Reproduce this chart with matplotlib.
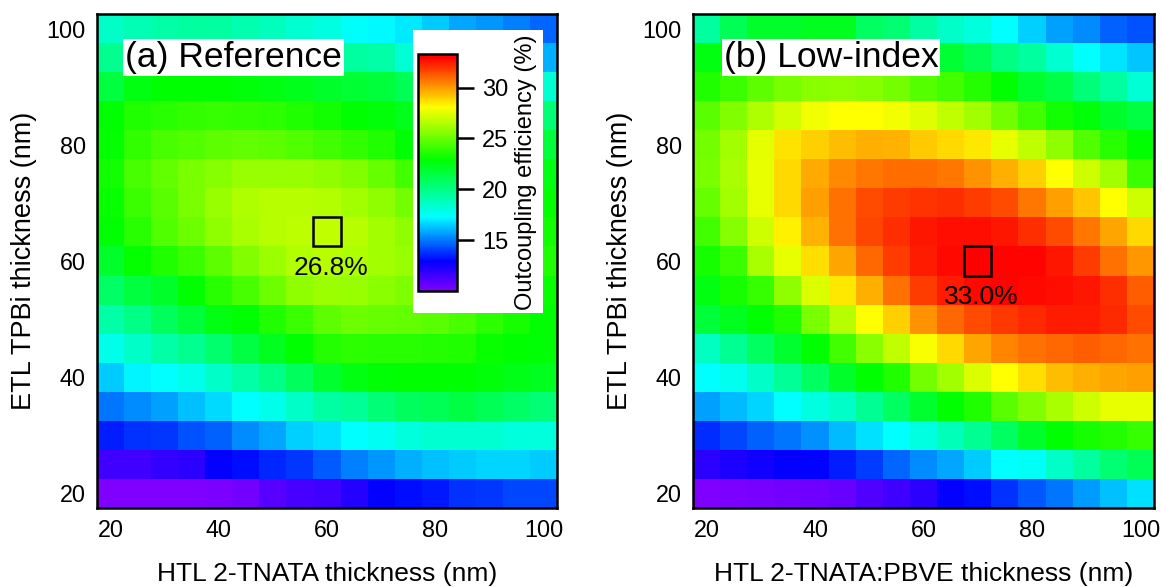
import numpy as np
import matplotlib
matplotlib.use("Agg")
import matplotlib.pyplot as plt
from matplotlib.colors import LinearSegmentedColormap, Normalize
from matplotlib.cm import ScalarMappable
from matplotlib.patches import Rectangle

plt.rcParams['font.family'] = ['Liberation Sans', 'DejaVu Sans']

# HTL thickness (x) and ETL thickness (y, rows listed from top = 100 nm down to 20 nm)
htl_nm = [20, 25, 30, 35, 40, 45, 50, 55, 60, 65, 70, 75, 80, 85, 90, 95, 100]
etl_nm = [100, 95, 90, 85, 80, 75, 70, 65, 60, 55, 50, 45, 40, 35, 30, 25, 20]

# outcoupling efficiency (%) - (a) reference device
eff_ref = [
    [18.5, 19.0, 19.2, 19.4, 19.4, 19.1, 18.8, 18.3, 18.0, 17.4, 17.2, 17.0, 16.4, 15.8, 15.5, 15.1, 14.7],
    [19.8, 20.8, 21.2, 21.3, 21.3, 21.2, 21.0, 20.6, 20.2, 19.4, 19.2, 18.2, 17.5, 17.0, 16.6, 16.2, 16.0],
    [21.5, 22.5, 22.9, 22.9, 22.9, 22.7, 22.5, 22.3, 22.0, 21.8, 21.6, 21.1, 20.6, 20.0, 19.4, 18.8, 18.3],
    [22.9, 23.5, 23.7, 23.9, 24.0, 23.9, 23.8, 23.5, 23.2, 22.9, 22.7, 22.3, 22.0, 21.6, 21.2, 20.8, 20.3],
    [23.0, 23.9, 24.3, 24.5, 24.8, 24.9, 24.8, 24.5, 24.2, 23.9, 23.5, 22.8, 22.4, 22.1, 21.9, 21.7, 21.6],
    [23.2, 24.3, 24.9, 25.3, 25.6, 26.0, 26.0, 26.0, 25.8, 25.5, 25.0, 24.2, 23.8, 23.4, 23.1, 22.9, 22.5],
    [23.1, 24.1, 24.7, 25.3, 26.0, 26.4, 26.6, 26.6, 26.5, 26.2, 25.8, 25.2, 24.6, 24.1, 23.7, 23.4, 23.0],
    [22.9, 23.7, 24.5, 25.1, 25.8, 26.3, 26.6, 26.7, 26.8, 26.6, 26.2, 25.8, 25.3, 24.7, 24.2, 23.7, 23.2],
    [22.0, 23.0, 23.5, 24.1, 24.8, 25.5, 26.1, 26.5, 26.6, 26.4, 26.2, 26.0, 25.6, 25.1, 24.6, 24.1, 23.5],
    [20.7, 21.5, 22.0, 22.9, 23.7, 24.3, 25.1, 25.8, 26.1, 26.0, 25.7, 25.4, 25.0, 24.6, 24.1, 23.6, 23.1],
    [19.2, 20.0, 20.9, 21.6, 22.5, 22.9, 23.5, 24.1, 24.8, 25.1, 25.0, 24.9, 24.7, 24.3, 23.8, 23.3, 22.9],
    [17.8, 18.5, 19.2, 19.8, 20.5, 21.4, 22.2, 22.9, 23.6, 23.8, 23.7, 23.7, 23.6, 23.5, 23.1, 22.9, 22.8],
    [16.4, 17.1, 17.3, 17.8, 18.5, 19.2, 20.0, 20.9, 21.9, 22.5, 22.8, 22.9, 22.9, 22.9, 22.7, 22.4, 22.2],
    [15.0, 15.3, 15.7, 16.2, 16.7, 17.3, 17.8, 18.5, 19.3, 19.6, 20.3, 20.9, 21.1, 21.4, 21.1, 20.7, 20.3],
    [13.4, 13.8, 13.9, 14.3, 14.6, 15.3, 15.8, 16.5, 16.8, 17.3, 17.6, 18.1, 18.3, 18.3, 18.3, 18.1, 18.1],
    [11.5, 11.5, 11.8, 12.0, 12.9, 13.1, 13.6, 13.9, 14.5, 15.1, 15.5, 16.0, 16.2, 16.4, 16.6, 16.6, 16.4],
    [10.0, 10.0, 10.0, 10.0, 10.1, 10.3, 11.0, 11.3, 11.5, 12.1, 12.9, 13.1, 13.3, 13.8, 13.9, 14.1, 14.1],
]

# outcoupling efficiency (%) - (b) low-index HTL
eff_low = [
    [19.4, 21.1, 22.0, 22.0, 22.2, 22.2, 20.8, 20.4, 19.3, 18.5, 18.1, 17.3, 16.5, 15.7, 15.3, 14.6, 14.3],
    [22.5, 22.8, 23.3, 23.6, 23.8, 23.8, 23.4, 23.0, 22.5, 21.8, 21.1, 20.1, 19.4, 18.3, 17.3, 16.9, 16.3],
    [23.5, 24.1, 24.8, 25.3, 25.7, 25.8, 25.6, 25.2, 24.6, 24.2, 23.6, 22.9, 21.9, 21.3, 20.2, 19.4, 18.2],
    [24.7, 25.5, 26.4, 27.2, 27.8, 28.1, 28.1, 27.8, 27.4, 26.8, 26.2, 25.2, 24.2, 23.2, 22.7, 22.0, 21.4],
    [25.2, 26.2, 27.5, 28.6, 29.0, 29.3, 29.6, 29.5, 29.1, 28.8, 28.5, 27.6, 26.8, 25.8, 24.5, 23.7, 22.9],
    [25.3, 26.3, 27.6, 28.8, 29.7, 30.3, 30.7, 30.9, 30.9, 30.7, 30.2, 29.6, 29.0, 28.1, 27.1, 26.2, 24.1],
    [25.0, 26.2, 27.6, 28.8, 29.9, 30.8, 31.5, 31.8, 32.0, 32.1, 31.8, 31.5, 30.7, 29.9, 29.2, 28.1, 27.1],
    [24.2, 25.6, 27.1, 28.3, 29.5, 30.8, 31.6, 32.1, 32.5, 32.7, 32.7, 32.5, 32.1, 31.5, 30.7, 29.8, 28.8],
    [23.3, 24.1, 26.3, 27.6, 28.7, 29.8, 31.0, 31.8, 32.4, 32.8, 33.0, 32.9, 32.9, 32.5, 31.8, 30.8, 30.1],
    [22.5, 23.3, 24.0, 25.8, 27.3, 28.5, 29.6, 30.8, 31.8, 32.4, 32.8, 32.9, 32.8, 32.7, 32.5, 32.1, 31.2],
    [21.6, 22.2, 22.9, 23.5, 25.3, 26.6, 28.1, 29.0, 30.2, 31.0, 31.5, 31.9, 32.2, 32.4, 32.4, 32.2, 31.5],
    [18.7, 19.7, 20.8, 21.9, 22.9, 24.2, 25.7, 26.8, 28.0, 28.8, 29.8, 30.4, 30.8, 31.0, 31.2, 31.0, 30.8],
    [17.3, 17.7, 18.5, 19.6, 20.8, 22.0, 22.9, 23.5, 25.2, 26.2, 27.3, 28.1, 28.7, 29.3, 29.6, 29.8, 29.9],
    [15.7, 16.1, 16.6, 17.3, 18.0, 18.5, 19.7, 20.8, 21.9, 22.9, 23.5, 24.7, 25.5, 26.3, 27.1, 27.6, 27.6],
    [13.7, 14.1, 14.6, 15.0, 15.4, 16.1, 16.8, 17.3, 18.0, 18.9, 19.7, 20.8, 22.0, 22.9, 23.3, 23.6, 24.0],
    [12.0, 12.3, 12.6, 12.9, 13.0, 13.4, 14.0, 14.7, 15.3, 15.8, 16.4, 17.3, 17.5, 18.5, 19.4, 20.4, 21.1],
    [10.0, 10.1, 10.2, 10.3, 10.4, 10.6, 11.1, 11.5, 12.0, 12.9, 13.1, 13.8, 14.4, 15.0, 15.6, 16.2, 16.8],
]

# optimum (htl, etl, efficiency)
best_ref = (60, 65, 26.8)
best_low = (70, 60, 33.0)

ticks = [20, 40, 60, 80, 100]
cbar_ticks = [15, 20, 25, 30]

# rainbow palette: violet -> blue -> cyan -> green -> yellow -> red
norm = Normalize(vmin=10.0, vmax=33.3)
cmap = LinearSegmentedColormap.from_list("oe_rainbow", [
    (0.0, (0.5, 0.0, 1.0)),
    (0.1245, (0.0, 0.0, 1.0)),
    (0.3133, (0.0, 1.0, 1.0)),
    (0.5536, (0.0, 1.0, 0.0)),
    (0.7768, (1.0, 1.0, 0.0)),
    (0.9871, (1.0, 0.0, 0.0)),
    (1.0, (1.0, 0.0, 0.0)),
])


def edges(centers):
    c = np.sort(np.array(centers, dtype=float))
    step = c[1] - c[0]
    return np.append(c - step / 2, c[-1] + step / 2)


def draw_panel(ax, data, best, label, label_x, xlabel):
    z = np.array(data)[::-1]  # rows bottom -> top
    xe = edges(htl_nm)
    ye = edges(etl_nm)
    ax.pcolormesh(xe, ye, z, cmap=cmap, norm=norm, shading='flat')
    ax.set_xlim(xe[0], xe[-1])
    ax.set_ylim(ye[0], ye[-1])
    ax.set_xticks(ticks)
    ax.set_yticks(ticks)
    ax.tick_params(length=0, pad=8, labelsize=16.8)
    for s in ax.spines.values():
        s.set_linewidth(1.8)
    ax.set_xlabel(xlabel, fontsize=19, labelpad=14)
    ax.set_ylabel("ETL TPBi thickness (nm)", fontsize=19.5, labelpad=7)

    bx, by, val = best
    ax.add_patch(Rectangle((bx - 2.5, by - 2.5), 5, 5, fill=False, ec='black', lw=1.8))
    ax.text(bx + 0.7, by - 6.2, f"{val:.1f}%", ha='center', va='center', fontsize=19)

    ax.text(label_x, 0.912, label, transform=ax.transAxes, fontsize=25.5,
            ha='left', va='center',
            bbox=dict(facecolor='white', edgecolor='none', pad=1.2))


fig = plt.figure(figsize=(11.62, 5.87), dpi=100)
W, H = 1162, 587

ax1 = fig.add_axes([97 / W, (H - 508) / H, 460 / W, 494 / H])
ax2 = fig.add_axes([693 / W, (H - 508) / H, 461 / W, 494 / H])

draw_panel(ax1, eff_ref, best_ref, "(a) Reference", 0.061, "HTL 2-TNATA thickness (nm)")
draw_panel(ax2, eff_low, best_low, "(b) Low-index", 0.067, "HTL 2-TNATA:PBVE thickness (nm)")

# white box behind the colorbar inside panel (a)
bg = fig.add_axes([413 / W, (H - 313) / H, 130 / W, 283 / H])
bg.set_facecolor('white')
bg.set_xticks([])
bg.set_yticks([])
for s in bg.spines.values():
    s.set_visible(False)

cax = fig.add_axes([418 / W, (H - 291) / H, 39 / W, 237 / H])
sm = ScalarMappable(norm=norm, cmap=cmap)
cb = fig.colorbar(sm, cax=cax, ticks=cbar_ticks)
cb.outline.set_linewidth(1.8)
cax.tick_params(length=12, width=1.8, labelsize=17, pad=6)
cb.set_label("Outcoupling efficiency (%)", fontsize=17, labelpad=5)

fig.savefig("out.png", dpi=100)
plt.close(fig)
